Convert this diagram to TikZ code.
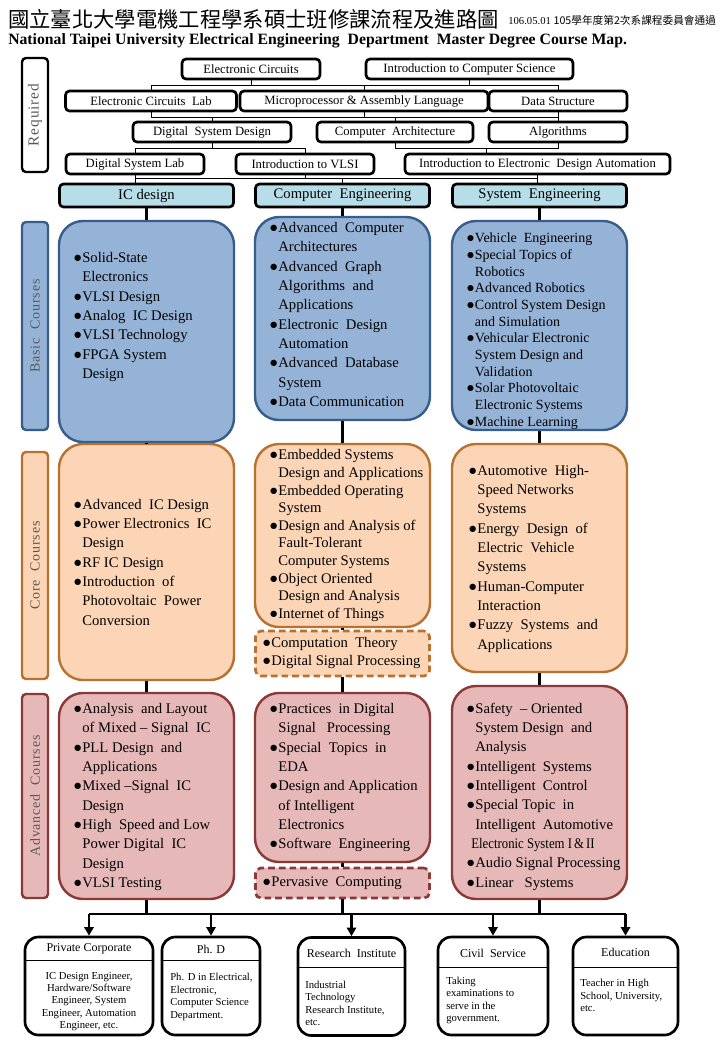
\documentclass[tikz,border=0pt]{standalone}
\usepackage{fontspec}
\usepackage{graphicx}
\setmainfont{Liberation Serif}
\newfontfamily\cjk{Noto Sans CJK TC}
\newfontfamily\spaced[LetterSpace=6]{Liberation Serif}
\usetikzlibrary{arrows.meta, positioning, calc}
\definecolor{basicblue}{RGB}{149,179,215}
\definecolor{basicedge}{RGB}{56,93,138}
\definecolor{corepeach}{RGB}{251,213,181}
\definecolor{coreedge}{RGB}{185,113,47}
\definecolor{advrose}{RGB}{230,185,184}
\definecolor{advedge}{RGB}{140,56,54}
\definecolor{trackblue}{RGB}{183,222,232}
\definecolor{labelgray}{RGB}{89,89,89}
\newcommand{\px}{0.75pt}
\newcommand{\bul}{\makebox[0.62em][l]{●}}
\newcommand{\ind}{\hspace*{0.62em}}

\begin{document}
\begin{tikzpicture}[
  x=0.75pt, y=-0.75pt,
  reqbox/.style={rectangle, rounded corners=3pt, draw=black, line width=2pt, fill=white,
    minimum height=20*\px, inner sep=0pt, font=\fontsize{9.5}{11}\selectfont},
  track/.style={rectangle, rounded corners=3pt, draw=black, line width=2pt, fill=trackblue,
    minimum width=174*\px, minimum height=23*\px, inner sep=0pt, font=\fontsize{11}{13}\selectfont},
  course/.style={rectangle, rounded corners=18pt, line width=1.8pt, minimum width=175*\px, inner sep=0pt},
  basic/.style={course, draw=basicedge, fill=basicblue},
  core/.style={course, draw=coreedge, fill=corepeach},
  adv/.style={course, draw=advedge, fill=advrose},
  extra/.style={rectangle, rounded corners=4pt, line width=2pt, dash pattern=on 5pt off 3pt,
    minimum width=174*\px, inner sep=0pt},
  side/.style={rectangle, rounded corners=3pt, line width=1.8pt, minimum width=26*\px, inner sep=0pt},
  sidetext/.style={rotate=90, text=labelgray, inner sep=0pt},
  items/.style={anchor=west, align=left, inner sep=0pt, font=\fontsize{11}{14.5}\selectfont},
  career/.style={rectangle, rounded corners=10pt, draw=black, line width=2pt, minimum height=98*\px, inner sep=0pt},
  careerhead/.style={font=\fontsize{9}{11}\selectfont, inner sep=0pt},
  careerbody/.style={font=\fontsize{8}{9.3}\selectfont, inner sep=0pt},
  link/.style={line width=0.75pt},
  stem/.style={line width=2.6pt},
  arrow/.style={-{Triangle[length=6.5pt,width=7pt]}, line width=1.9pt},
]
\useasboundingbox (0,0) rectangle (720,1040);

% === Title ===
\node[anchor=west, inner sep=0pt, font=\cjk\fontsize{16}{18}\selectfont] (title) at (8,19)
  {國立臺北大學電機工程學系碩士班修課流程及進路圖};
\node[anchor=west, inner sep=0pt, font=\fontsize{8}{9}\selectfont] (approved) at (508,20)
  {106.05.01 {\cjk 105學年度第2次系課程委員會通過}};
\node[anchor=west, inner sep=0pt, font=\bfseries\fontsize{11.8}{14}\selectfont] (entitle) at (8,41)
  {National Taipei University Electrical Engineering\ \ Department\ \ Master Degree Course Map.};

% === Row labels ===
\node[side, draw=black, fill=white, minimum height=114*\px] (reqlab) at (35,115) {};
\node[sidetext, font=\spaced\fontsize{11.5}{13}\selectfont] (reqtext) at (reqlab) {Required};
\node[side, draw=basicedge, fill=basicblue, minimum height=208*\px] (basiclab) at (35,326) {};
\node[sidetext, font=\spaced\fontsize{10.5}{12}\selectfont] (basictext) at (basiclab) {Basic\ \ Courses};
\node[side, draw=coreedge, fill=corepeach, minimum height=227*\px] (corelab) at (35,565.5) {};
\node[sidetext, font=\spaced\fontsize{10.5}{12}\selectfont] (coretext) at (corelab) {Core\ \ Courses};
\node[side, draw=advedge, fill=advrose, minimum height=204*\px] (advlab) at (35,796) {};
\node[sidetext, font=\spaced\fontsize{10.5}{12}\selectfont] (advtext) at (advlab) {Advanced\ \ Courses};

% === Required courses ===
\node[reqbox, minimum width=138*\px] (ec)   at (251,69)   {Electronic Circuits};
\node[reqbox, minimum width=207*\px] (ics)  at (469.5,69) {Introduction to Computer Science};
\node[reqbox, minimum width=171*\px] (ecl)  at (151,101)  {Electronic Circuits\ \ Lab};
\node[reqbox, minimum width=248*\px] (mpa)  at (364,101)  {Microprocessor \& Assembly Language};
\node[reqbox, minimum width=138*\px] (ds)   at (558,101)  {Data Structure};
\node[reqbox, minimum width=158*\px] (dsd)  at (212,132)  {Digital\ \ System Design};
\node[reqbox, minimum width=156*\px] (ca)   at (395,132)  {Computer\ \ Architecture};
\node[reqbox, minimum width=138*\px] (alg)  at (558,132)  {Algorithms};
\node[reqbox, minimum width=138*\px] (dsl)  at (135,164)  {Digital System Lab};
\node[reqbox, minimum width=138*\px] (vlsi) at (305,164)  {Introduction to VLSI};
\node[reqbox, minimum width=265*\px] (ieda) at (537.5,164) {Introduction to Electronic\ \ Design Automation};

% bus levels between the required rows
\coordinate (r1) at (0,85);
\coordinate (r2) at (0,117);
\coordinate (r3) at (0,148);
\coordinate (r4) at (0,178);
\coordinate (iedain) at ($(ieda.north west)!0.31!(ieda.north east)$);

\draw[link] (ec.south) -- (ec.south |- r1);
\draw[link] (ics.south) -- (ics.south |- r1);
\draw[link] (ecl.north) |- (r1 -| ds.north) -- (ds.north);
\draw[link] (mpa.north) -- (mpa.north |- r1);

\draw[link] (ecl.south) |- (r2 -| ds.south);
\draw[link] (ds.south) -- (alg.north);
\draw[link] (mpa.south) -- (mpa.south |- r2);
\draw[link] (dsd.north) -- (dsd.north |- r2);
\draw[link] (ca.north) -- (ca.north |- r2);

\draw[link] (dsl.north) |- (r3 -| vlsi.north) -- (vlsi.north);
\draw[link] (dsd.south) -- (dsd.south |- r3);
\draw[link] (ca.south) |- (r3 -| alg.south) -- (alg.south);
\draw[link] (iedain) -- (iedain |- r3);

% === Tracks ===
\node[track] (icd) at (146.5,195.5) {IC design};
\node[track] (ced) at (342.5,195.5) {Computer\ \ Engineering};
\node[track] (sed) at (539.5,195.5) {System\ \ Engineering};

\draw[link] (dsl.south) -- (dsl.south |- icd.north);
\draw[link] (dsl.south |- r4) -- (r4 -| ieda.south);
\draw[link] (vlsi.south) -- (vlsi.south |- r4);
\draw[link] (ced.north) -- (ced.north |- r4);
\draw[link] (ieda.south) -- (ieda.south |- sed.north);

% === Basic courses ===
\node[basic, minimum height=221*\px] (icbasic) at (146.5,331.5) {};
\node[basic, minimum height=203*\px] (cebasic) at (342.5,318.5) {};
\node[basic, minimum height=209*\px] (sebasic) at (539.5,325.5) {};

\node[items] (icbasictext) at (73,317) {%
  \bul Solid-State\\ \ind Electronics\\ \bul VLSI Design\\ \bul Analog\ \ IC Design\\
  \bul VLSI Technology\\ \bul FPGA System\\ \ind Design};
\node[items] (cebasictext) at (269,314.5) {%
  \bul Advanced\ \ Computer\\ \ind Architectures\\ \bul Advanced\ \ Graph\\
  \ind Algorithms\ \ and\\ \ind Applications\\ \bul Electronic\ \ Design\\ \ind Automation\\
  \bul Advanced\ \ Database\\ \ind System\\ \bul Data Communication};
\node[items, font=\fontsize{10.5}{12.5}\selectfont] (sebasictext) at (466,331) {%
  \bul Vehicle\ \ Engineering\\ \bul Special Topics of\\ \ind Robotics\\ \bul Advanced Robotics\\
  \bul Control System Design\\ \ind and Simulation\\ \bul Vehicular Electronic\\
  \ind System Design and\\ \ind Validation\\ \bul Solar Photovoltaic\\
  \ind Electronic Systems\\ \bul Machine Learning};

% === Core courses ===
\node[core, minimum height=236*\px] (iccore) at (146.5,562) {};
\node[core, minimum height=183*\px] (cecore) at (342.5,535.5) {};
\node[extra, draw=coreedge, fill=corepeach, minimum height=45*\px] (cecorex) at (342.5,653.5) {};
\node[core, minimum height=228*\px] (secore) at (539.5,558) {};

\node[items] (iccoretext) at (73,562) {%
  \bul Advanced\ \ IC Design\\ \bul Power Electronics\ \ IC\\ \ind Design\\ \bul RF IC Design\\
  \bul Introduction\ \ of\\ \ind Photovoltaic\ \ Power\\ \ind Conversion};
\node[items, font=\fontsize{11}{13.2}\selectfont] (cecoretext) at (269,535.5) {%
  \bul Embedded Systems\\ \ind Design and Applications\\ \bul Embedded Operating\\ \ind System\\
  \bul Design and Analysis of\\ \ind Fault-Tolerant\\ \ind Computer Systems\\
  \bul Object Oriented\\ \ind Design and Analysis\\ \bul Internet of Things};
\node[items, font=\fontsize{11}{13.5}\selectfont] (cecorextext) at (262,653) {%
  \bul Computation\ \ Theory\\ \bul Digital Signal Processing};
\node[items] (secoretext) at (468,558.5) {%
  \bul Automotive\ \ High-\\ \ind Speed Networks\\ \ind Systems\\ \bul Energy\ \ Design\ \ of\\
  \ind Electric\ \ Vehicle\\ \ind Systems\\ \bul Human-Computer\\ \ind Interaction\\
  \bul Fuzzy\ \ Systems\ \ and\\ \ind Applications};

% === Advanced courses ===
\node[adv, minimum height=206*\px] (icadv) at (146.5,796) {};
\node[adv, minimum height=169*\px] (ceadv) at (342.5,777.5) {};
\node[extra, draw=advedge, fill=advrose, minimum height=30*\px] (ceadvx) at (342.5,883) {};
\node[adv, minimum height=213*\px] (seadv) at (539.5,792.5) {};

\node[items] (icadvtext) at (73,797) {%
  \bul Analysis\ \ and Layout\\ \ind of Mixed -- Signal\ \ IC\\ \bul PLL Design\ \ and\\
  \ind Applications\\ \bul Mixed --Signal\ \ IC\\ \ind Design\\ \bul High\ \ Speed and Low\\
  \ind Power Digital\ \ IC\\ \ind Design\\ \bul VLSI Testing};
\node[items] (ceadvtext) at (269,777.5) {%
  \bul Practices\ \ in Digital\\ \ind Signal\ \ \ Processing\\ \bul Special\ \ Topics\ \ in\\ \ind EDA\\
  \bul Design and Application\\ \ind of Intelligent\\ \ind Electronics\\ \bul Software\ \ Engineering};
\node[items] (ceadvxtext) at (262,883) {\bul Pervasive\ \ Computing};
\node[items] (seadvtext) at (466,796.5) {%
  \bul Safety\ \ -- Oriented\\ \ind System Design\ \ and\\ \ind Analysis\\ \bul Intelligent\ \ Systems\\
  \bul Intelligent\ \ Control\\ \bul Special Topic\ \ in\\ \ind Intelligent\ \ Automotive\\
  \hspace*{0.35em}\scalebox{0.87}[1]{Electronic System I\,\&\,II}\\ \bul Audio Signal Processing\\
  \bul Linear\ \ \ Systems};

% === Stems between rows ===
\draw[stem] (icd.south) -- (icbasic.north);
\draw[stem] (icbasic.south) -- (iccore.north);
\draw[stem] (iccore.south) -- (icadv.north);
\draw[stem] (ced.south) -- (cebasic.north);
\draw[stem] (cebasic.south) -- (cecore.north);
\draw[stem] (cecore.south) -- (cecorex.north);
\draw[stem] (cecorex.south) -- (ceadv.north);
\draw[stem] (ceadv.south) -- (ceadvx.north);
\draw[stem] (sed.south) -- (sebasic.north);
\draw[stem] (sebasic.south) -- (secore.north);
\draw[stem] (secore.south) -- (seadv.north);

% === Careers ===
\coordinate (outbus) at (0,914);
\coordinate (cutA) at (0,960);
\coordinate (cutB) at (0,967);

\node[career, minimum width=128*\px] (pc) at (89,986) {};
\node[careerhead] (pchead) at (89,949) {Private Corporate};
\draw[link] (pc.west |- cutA) -- (pc.east |- cutA);
\node[careerbody, align=center] (pcbody) at (89,1001.5)
  {IC Design Engineer,\\ Hardware/Software\\ Engineer, System\\ Engineer, Automation\\ Engineer, etc.};

\node[career, minimum width=98*\px] (phd) at (211,986) {};
\node[careerhead] (phdhead) at (211,949) {Ph. D};
\draw[link] (phd.west |- cutA) -- (phd.east |- cutA);
\node[careerbody, align=left, anchor=west] (phdbody) at (170,997)
  {Ph. D in Electrical,\\ Electronic,\\ Computer Science\\ Department.};

\node[career, minimum width=107*\px] (ri) at (351.5,986.5) {};
\node[careerhead] (rihead) at (351.5,953) {Research\ \ Institute};
\draw[link] (ri.west |- cutB) -- (ri.east |- cutB);
\node[careerbody, align=left, anchor=west] (ribody) at (305,1003.5)
  {Industrial\\ Technology\\ Research Institute,\\ etc.};

\node[career, minimum width=110*\px] (cs) at (493,986) {};
\node[careerhead] (cshead) at (493,953) {Civil\ \ Service};
\draw[link] (cs.west |- cutB) -- (cs.east |- cutB);
\node[careerbody, align=left, anchor=west] (csbody) at (446,1000.5)
  {Taking\\ examinations to\\ serve in the\\ government.};

\node[career, minimum width=105*\px] (edu) at (625.5,986) {};
\node[careerhead] (eduhead) at (625.5,952) {Education};
\draw[link] (edu.west |- cutB) -- (edu.east |- cutB);
\node[careerbody, align=left, anchor=west] (edubody) at (580,995.5)
  {Teacher in High\\ School, University,\\ etc.};

% === Paths out ===
\draw[stem] (icadv.south) -- (icadv.south |- outbus);
\draw[stem] (ceadvx.south) -- (ceadvx.south |- outbus);
\draw[stem] (seadv.south) -- (seadv.south |- outbus);
\draw[line width=2.2pt] (pc.north |- outbus) -- (edu.north |- outbus);
\draw[arrow] (pc.north |- outbus) -- (pc.north);
\draw[arrow] (phd.north |- outbus) -- (phd.north);
\draw[arrow] (ri.north |- outbus) -- (ri.north);
\draw[arrow] (cs.north |- outbus) -- (cs.north);
\draw[arrow] (edu.north |- outbus) -- (edu.north);

\end{tikzpicture}
\end{document}
